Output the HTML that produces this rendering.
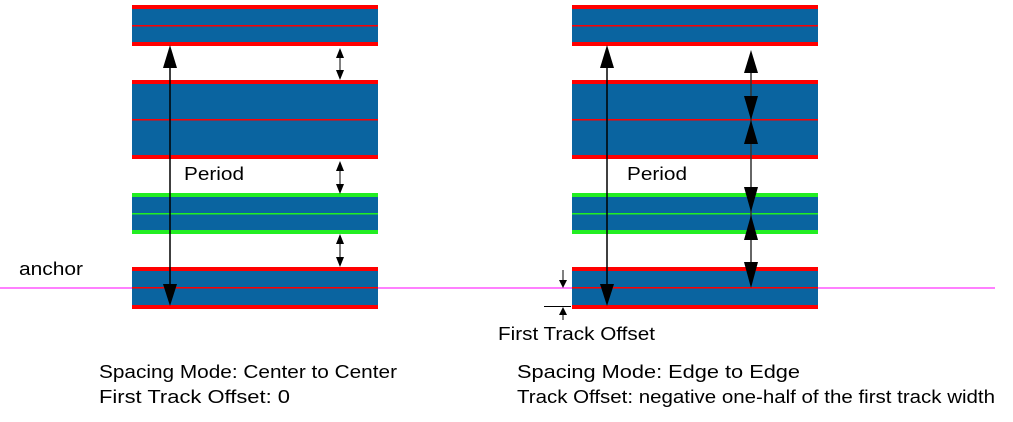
<!DOCTYPE html>
<html><head><style>body{margin:0;background:#fff}svg{display:block}</style></head><body>
<svg width="1013" height="422" xmlns="http://www.w3.org/2000/svg" font-family="Liberation Sans, sans-serif" font-size="18">
<defs>
<g id="tracks">
<rect x="0" y="7" width="246" height="37" fill="#0a64a0"/>
<rect x="0" y="82" width="246" height="75" fill="#0a64a0"/>
<rect x="0" y="195" width="246" height="37" fill="#0a64a0"/>
<rect x="0" y="269" width="246" height="38" fill="#0a64a0"/>
<g fill="#ff0000">
<rect x="0" y="5" width="246" height="4"/><rect x="0" y="42" width="246" height="4"/><rect x="0" y="25" width="246" height="1.5"/>
<rect x="0" y="80" width="246" height="4"/><rect x="0" y="155" width="246" height="4"/><rect x="0" y="119" width="246" height="1.5"/>
<rect x="0" y="267" width="246" height="4"/><rect x="0" y="305" width="246" height="4"/><rect x="0" y="287" width="246" height="1.5"/>
</g>
<g fill="#22ee22">
<rect x="0" y="193" width="246" height="4"/><rect x="0" y="230" width="246" height="4"/><rect x="0" y="213" width="246" height="1.5"/>
</g>
</g>
</defs>
<line x1="0" y1="288" x2="995" y2="288" stroke="#ff00ff" stroke-width="1"/>
<use href="#tracks" x="132"/>
<use href="#tracks" x="572"/>
<line x1="170" y1="60" x2="170" y2="290" stroke="#000" stroke-width="1.5"/>
<polygon points="170,45 163,68 177,68" fill="#000"/>
<polygon points="170,306 163,284 177,284" fill="#000"/>
<g fill="#000" stroke="#000">
<line x1="340" y1="52" x2="340" y2="76" stroke-width="1"/>
<polygon points="340,48 336,58 344,58" stroke="none"/><polygon points="340,80 336,70 344,70" stroke="none"/>
<line x1="340" y1="164" x2="340" y2="188" stroke-width="1"/>
<polygon points="340,161 336,171 344,171" stroke="none"/><polygon points="340,194 336,184 344,184" stroke="none"/>
<line x1="340" y1="238" x2="340" y2="264" stroke-width="1"/>
<polygon points="340,234 336,244 344,244" stroke="none"/><polygon points="340,267 336,257 344,257" stroke="none"/>
</g>
<line x1="607" y1="60" x2="607" y2="290" stroke="#000" stroke-width="1.5"/>
<polygon points="607,45 600,68 614,68" fill="#000"/>
<polygon points="607,306 600,284 614,284" fill="#000"/>
<line x1="751" y1="55" x2="751" y2="285" stroke="#333" stroke-width="1.5"/>
<g fill="#000">
<polygon points="751,50 744,73 758,73"/>
<polygon points="751,120 744,96 758,96"/>
<polygon points="751,120 744,144 758,144"/>
<polygon points="751,212 744,187 758,187"/>
<polygon points="751,215 744,240 758,240"/>
<polygon points="751,288 744,262 758,262"/>
</g>
<line x1="563" y1="270" x2="563" y2="282" stroke="#000" stroke-width="1"/>
<polygon points="563,288 559,280 567,280" fill="#000"/>
<line x1="544" y1="306.5" x2="571" y2="306.5" stroke="#000" stroke-width="1"/>
<line x1="563" y1="312" x2="563" y2="320" stroke="#000" stroke-width="1"/>
<polygon points="563,307 559,315 567,315" fill="#000"/>
<g fill="#000">
<text x="19" y="275" textLength="64" lengthAdjust="spacingAndGlyphs">anchor</text>
<text x="184" y="180" textLength="60" lengthAdjust="spacingAndGlyphs">Period</text>
<text x="627" y="180" textLength="60" lengthAdjust="spacingAndGlyphs">Period</text>
<text x="498" y="340" textLength="157" lengthAdjust="spacingAndGlyphs">First Track Offset</text>
<text x="99" y="378" textLength="298" lengthAdjust="spacingAndGlyphs">Spacing Mode: Center to Center</text>
<text x="99" y="403" textLength="191" lengthAdjust="spacingAndGlyphs">First Track Offset: 0</text>
<text x="517" y="378" textLength="283" lengthAdjust="spacingAndGlyphs">Spacing Mode: Edge to Edge</text>
<text x="517" y="403" textLength="478" lengthAdjust="spacingAndGlyphs">Track Offset: negative one-half of the first track width</text>
</g>
</svg>
</body></html>
